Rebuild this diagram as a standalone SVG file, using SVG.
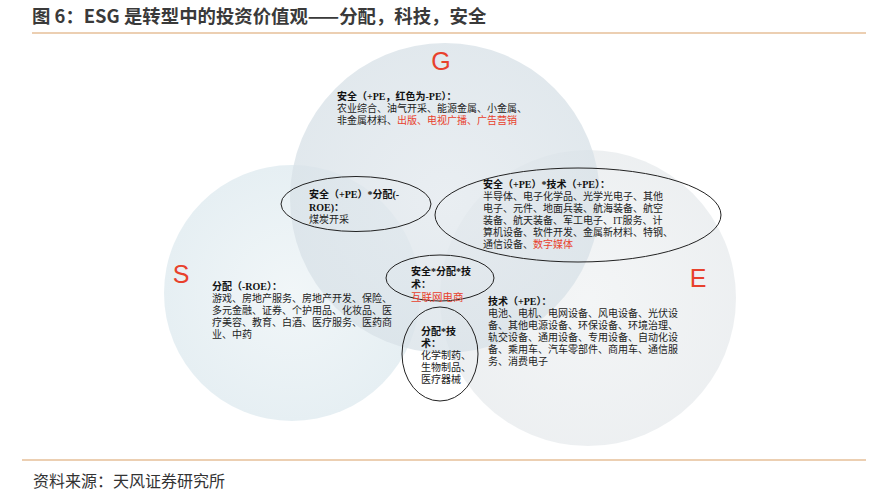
<svg xmlns="http://www.w3.org/2000/svg" width="888" height="498" viewBox="0 0 888 498">
<style>
.title{font-family:"Noto Sans CJK SC","Noto Sans",sans-serif;font-size:18.4px;font-weight:bold;fill:#3a3a3a}
.foot{font-family:"Noto Sans CJK SC","Noto Sans",sans-serif;font-size:16px;fill:#333}
.big{font-family:"Liberation Sans",Arial,sans-serif;font-size:25px;fill:#e8412c}
.t{font-family:"Liberation Serif","Noto Sans CJK SC",serif;font-size:10px;fill:#222}
.h{font-weight:bold;fill:#111}
.red{fill:#e8412c}
.ell{fill:none;stroke:#222;stroke-width:1}
.rule{stroke:#d9a066;stroke-width:1.2}
</style>
<defs>
<radialGradient id="gS" cx="0.5" cy="0.5" r="0.5"><stop offset="0" stop-color="#f1f6f8"/><stop offset="1" stop-color="#e6eff3"/></radialGradient>
<radialGradient id="gG" cx="0.5" cy="0.5" r="0.5"><stop offset="0" stop-color="#e3e9ee"/><stop offset="1" stop-color="#d9e2e8"/></radialGradient>
<radialGradient id="gE" cx="0.5" cy="0.5" r="0.5"><stop offset="0" stop-color="#f2f4f5"/><stop offset="1" stop-color="#ebeef0"/></radialGradient>
</defs>
<rect width="888" height="498" fill="#fff"/>
<text class="title" x="32" y="23">图 6：ESG 是转型中的投资价值观——分配，科技，安全</text>
<line class="rule" x1="32" y1="33" x2="866" y2="33"/>
<g id="circles">
<circle id="circleS" cx="292" cy="293" r="128" fill="url(#gS)"/>
<circle id="circleE" cx="588" cy="298" r="148" fill="url(#gE)" opacity="0.9"/>
<circle id="circleG" cx="445" cy="198" r="155" fill="url(#gG)" opacity="0.78"/>
</g>
<g id="labels">
<text class="big" x="441" y="70" text-anchor="middle">G</text>
<text class="big" x="181" y="283" text-anchor="middle">S</text>
<text class="big" x="698" y="287" text-anchor="middle">E</text>
</g>
<g id="node-G">
<text class="t"><tspan class="h" x="337" y="100">安全（+PE，红色为-PE）：</tspan><tspan x="337" y="112">农业综合、油气开采、能源金属、小金属、</tspan><tspan x="337" y="124">非金属材料、</tspan><tspan class="red">出版、电视广播、广告营销</tspan></text>
</g>
<g id="node-GS">
<ellipse class="ell" cx="356" cy="204" rx="75" ry="27.5"/>
<text class="t"><tspan class="h" x="309" y="198">安全（+PE）*分配(-</tspan><tspan class="h" x="309" y="211">ROE)：</tspan><tspan x="309" y="223">煤炭开采</tspan></text>
</g>
<g id="node-GE">
<ellipse class="ell" cx="578" cy="215" rx="143" ry="47"/>
<text class="t"><tspan class="h" x="483" y="188">安全（+PE）*技术（+PE）：</tspan><tspan x="483" y="200">半导体、电子化学品、光学光电子、其他</tspan><tspan x="483" y="212">电子、元件、地面兵装、航海装备、航空</tspan><tspan x="483" y="224">装备、航天装备、军工电子、IT服务、计</tspan><tspan x="483" y="236">算机设备、软件开发、金属新材料、特钢、</tspan><tspan x="483" y="248">通信设备、</tspan><tspan class="red">数字媒体</tspan></text>
</g>
<g id="node-S">
<text class="t"><tspan class="h" x="212" y="290">分配（-ROE）：</tspan><tspan x="212" y="302">游戏、房地产服务、房地产开发、保险、</tspan><tspan x="212" y="314">多元金融、证券、个护用品、化妆品、医</tspan><tspan x="212" y="326">疗美容、教育、白酒、医疗服务、医药商</tspan><tspan x="212" y="338">业、中药</tspan></text>
</g>
<g id="node-GSE">
<ellipse class="ell" cx="440" cy="278" rx="54" ry="23"/>
<text class="t"><tspan class="h" x="411" y="275">安全*分配*技</tspan><tspan class="h" x="411" y="288">术：</tspan><tspan class="red" x="411" y="301" style="font-family:'Noto Sans CJK SC',sans-serif;font-size:10.5px">互联网电商</tspan></text>
</g>
<g id="node-E">
<text class="t"><tspan class="h" x="488" y="305">技术（+PE）：</tspan><tspan x="488" y="317">电池、电机、电网设备、风电设备、光伏设</tspan><tspan x="488" y="329">备、其他电源设备、环保设备、环境治理、</tspan><tspan x="488" y="341">轨交设备、通用设备、专用设备、自动化设</tspan><tspan x="488" y="353">备、乘用车、汽车零部件、商用车、通信服</tspan><tspan x="488" y="365">务、消费电子</tspan></text>
</g>
<g id="node-SE">
<ellipse class="ell" cx="440" cy="354" rx="38" ry="47"/>
<text class="t"><tspan class="h" x="421" y="335">分配*技</tspan><tspan class="h" x="421" y="347">术：</tspan><tspan x="421" y="359">化学制药、</tspan><tspan x="421" y="371">生物制品、</tspan><tspan x="421" y="383">医疗器械</tspan></text>
</g>
<g id="connectors"/>
<line class="rule" x1="22" y1="460" x2="866" y2="460"/>
<text class="foot" x="33" y="487">资料来源：天风证券研究所</text>
</svg>
